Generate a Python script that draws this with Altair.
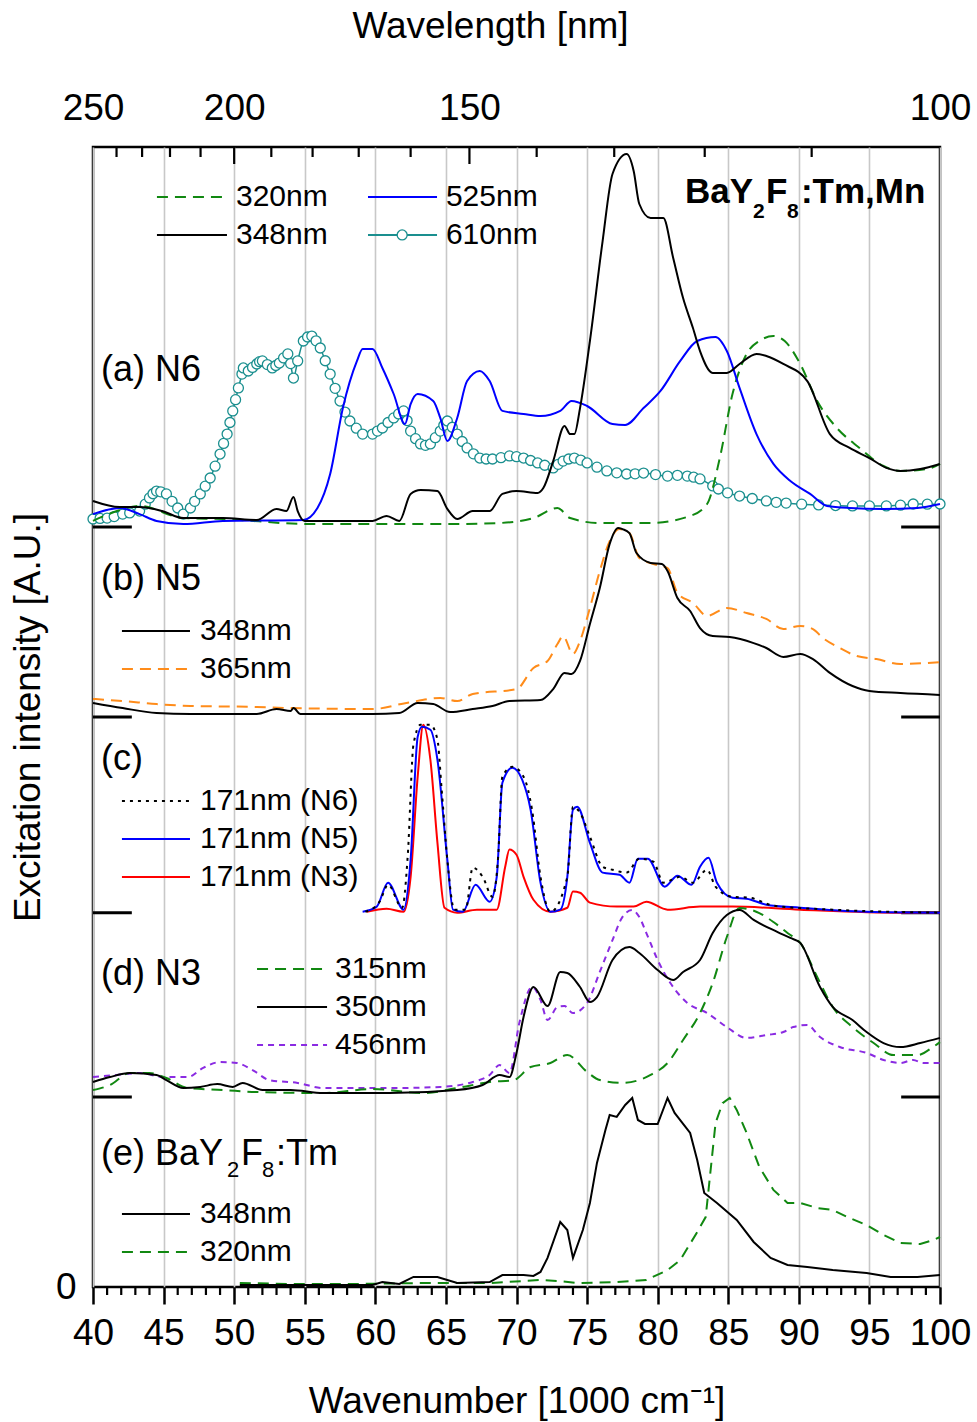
import altair as alt
import pandas as pd

FONT = "Liberation Sans"

# Baseline of each stacked panel, in intensity units (panel (a) spans two units)
OFFSET = {"a": 4.0, "b": 3.0, "c": 1.97, "d": 1.0, "e": 0.0}

# ---- (a) N6 : (wavenumber [1000 cm-1], relative intensity) ----
a_320 = [(40.0, 0.032), (41.7, 0.084), (43.3, 0.111), (46.4, 0.047), (49.2, 0.042), (55.2, 0.016),
         (61.0, 0.016), (65.8, 0.016), (68.8, 0.021), (71.2, 0.047), (72.9, 0.100), (73.8, 0.047),
         (75.9, 0.021), (79.5, 0.021), (82.3, 0.058), (83.5, 0.121), (84.4, 0.363), (85.3, 0.700),
         (86.3, 0.911), (87.2, 0.979), (88.2, 1.005), (89.0, 0.979), (90.1, 0.858), (91.3, 0.663),
         (92.7, 0.521), (94.3, 0.416), (96.0, 0.321), (97.2, 0.295), (99.1, 0.305), (100.0, 0.332)]
a_348 = [(40.0, 0.137), (41.9, 0.105), (43.3, 0.105), (44.9, 0.084), (46.4, 0.047), (49.2, 0.047),
         (51.6, 0.037), (53.0, 0.095), (53.7, 0.084), (54.2, 0.158), (54.5, 0.084), (55.0, 0.032),
         (59.8, 0.032), (60.8, 0.058), (61.7, 0.032), (62.5, 0.174), (63.2, 0.195), (64.4, 0.189),
         (65.1, 0.095), (65.8, 0.042), (66.9, 0.084), (68.1, 0.084), (69.0, 0.174), (70.0, 0.189),
         (71.5, 0.179), (71.9, 0.205), (72.6, 0.347), (73.4, 0.532), (73.8, 0.489), (74.1, 0.489),
         (74.5, 0.626), (75.2, 0.979), (76.1, 1.505), (76.8, 1.858), (77.8, 1.963), (78.3, 1.874),
         (78.7, 1.700), (79.5, 1.626), (80.4, 1.626), (81.1, 1.416), (81.8, 1.205), (82.5, 1.047),
         (83.0, 0.926), (83.9, 0.811), (84.9, 0.811), (85.8, 0.858), (87.0, 0.911), (87.7, 0.900),
         (88.9, 0.858), (90.6, 0.768), (92.2, 0.489), (93.6, 0.416), (95.0, 0.363), (96.2, 0.311),
         (97.2, 0.295), (98.6, 0.305), (100.0, 0.332)]
a_525 = [(40.0, 0.068), (41.9, 0.100), (43.3, 0.068), (44.5, 0.032), (46.4, 0.016), (49.2, 0.032),
         (54.9, 0.037), (55.9, 0.100), (56.8, 0.279), (57.7, 0.626), (58.7, 0.874), (59.1, 0.937),
         (59.8, 0.937), (60.5, 0.837), (61.3, 0.700), (62.1, 0.542), (62.5, 0.647), (63.0, 0.700),
         (64.1, 0.663), (64.6, 0.574), (65.1, 0.453), (65.8, 0.574), (66.5, 0.768), (67.4, 0.821),
         (68.1, 0.768), (69.0, 0.611), (70.5, 0.595), (71.7, 0.584), (73.1, 0.611), (73.9, 0.663),
         (75.0, 0.637), (76.8, 0.542), (77.7, 0.537), (79.0, 0.626), (80.2, 0.716), (81.6, 0.874),
         (82.8, 0.979), (84.1, 1.000), (84.9, 0.926), (85.8, 0.732), (87.0, 0.489), (88.2, 0.332),
         (89.4, 0.242), (90.8, 0.174), (92.0, 0.111), (93.6, 0.100), (96.0, 0.095), (98.4, 0.100),
         (100.0, 0.121)]
a_610 = [(40.0, 0.042), (40.5, 0.045), (41.0, 0.047), (41.5, 0.055), (42.1, 0.068), (42.6, 0.074),
         (43.3, 0.084), (43.7, 0.120), (44.0, 0.153), (44.25, 0.175), (44.5, 0.189), (44.8, 0.185),
         (45.2, 0.174), (45.6, 0.135), (46.0, 0.100), (46.4, 0.068), (46.9, 0.100), (47.2, 0.135),
         (47.6, 0.174), (47.95, 0.215), (48.3, 0.258), (48.65, 0.320), (49.0, 0.384), (49.25, 0.440),
         (49.5, 0.489), (49.7, 0.550), (49.9, 0.611), (50.1, 0.670), (50.3, 0.732), (50.55, 0.805),
         (50.65, 0.837), (51.0, 0.821), (51.3, 0.840), (51.6, 0.858), (51.8, 0.870), (52.0, 0.874),
         (52.35, 0.855), (52.7, 0.837), (52.95, 0.850), (53.2, 0.863), (53.5, 0.890), (53.8, 0.911),
         (54.0, 0.860), (54.2, 0.784), (54.5, 0.874), (54.9, 0.979), (55.2, 1.000), (55.5, 1.005),
         (55.8, 0.980), (56.1, 0.942), (56.45, 0.875), (56.8, 0.805), (57.15, 0.730), (57.5, 0.663),
         (57.85, 0.605), (58.2, 0.558), (58.65, 0.520), (59.1, 0.489), (59.8, 0.489), (60.15, 0.505),
         (60.5, 0.521), (60.9, 0.550), (61.3, 0.574), (61.65, 0.595), (62.0, 0.611), (62.25, 0.560),
         (62.5, 0.505), (62.85, 0.465), (63.2, 0.437), (63.55, 0.430), (63.9, 0.437), (64.25, 0.470),
         (64.6, 0.505), (64.85, 0.535), (65.1, 0.558), (65.45, 0.525), (65.8, 0.489), (66.15, 0.450),
         (66.5, 0.416), (66.95, 0.385), (67.4, 0.363), (67.85, 0.358), (68.3, 0.358), (68.9, 0.365),
         (69.5, 0.374), (70.0, 0.370), (70.5, 0.363), (71.0, 0.350), (71.5, 0.337), (72.0, 0.325),
         (72.6, 0.311), (72.95, 0.330), (73.3, 0.347), (73.7, 0.358), (74.1, 0.363), (74.55, 0.352),
         (75.0, 0.337), (75.7, 0.315), (76.4, 0.295), (77.1, 0.285), (77.8, 0.279), (78.4, 0.280),
         (79.0, 0.284), (79.85, 0.276), (80.7, 0.268), (81.4, 0.272), (82.1, 0.268), (82.55, 0.262),
         (83.0, 0.253), (83.9, 0.216), (84.3, 0.200), (84.95, 0.180), (85.8, 0.163), (86.7, 0.150),
         (87.7, 0.137), (88.4, 0.130), (89.1, 0.126), (90.2, 0.120), (91.4, 0.116), (92.6, 0.113),
         (93.8, 0.111), (95.0, 0.111), (96.2, 0.111), (97.2, 0.115), (98.1, 0.121), (99.1, 0.120),
         (100.0, 0.121)]

# ---- (b) N5 ----
b_348 = [(40.0, 0.074), (42.1, 0.047), (44.5, 0.021), (46.9, 0.016), (51.6, 0.016), (53.0, 0.042),
         (54.0, 0.032), (54.2, 0.047), (54.7, 0.016), (59.8, 0.016), (61.7, 0.021), (63.0, 0.074),
         (64.1, 0.068), (65.3, 0.026), (66.9, 0.042), (68.3, 0.058), (69.5, 0.084), (71.7, 0.089),
         (72.6, 0.147), (73.4, 0.232), (73.9, 0.226), (74.5, 0.295), (75.2, 0.489), (75.9, 0.679),
         (76.6, 0.911), (77.2, 0.995), (77.5, 0.989), (78.0, 0.968), (78.5, 0.863), (79.5, 0.811),
         (80.3, 0.805), (80.7, 0.768), (81.4, 0.626), (82.3, 0.558), (83.0, 0.468), (83.9, 0.426),
         (85.1, 0.421), (86.8, 0.389), (87.7, 0.363), (88.9, 0.316), (90.1, 0.332), (91.0, 0.305),
         (92.2, 0.232), (93.8, 0.163), (95.0, 0.137), (97.2, 0.126), (100.0, 0.116)]
b_365 = [(40.0, 0.095), (42.1, 0.084), (44.5, 0.068), (46.9, 0.058), (51.6, 0.053), (54.0, 0.047),
         (59.8, 0.042), (62.2, 0.074), (64.6, 0.100), (65.8, 0.084), (66.9, 0.121), (70.0, 0.147),
         (71.2, 0.258), (72.2, 0.295), (72.9, 0.384), (73.3, 0.426), (74.0, 0.332), (74.5, 0.400),
         (75.2, 0.574), (75.9, 0.768), (76.6, 0.926), (77.3, 0.989), (78.0, 0.968), (78.7, 0.837),
         (79.7, 0.805), (80.7, 0.784), (81.4, 0.653), (82.5, 0.600), (83.5, 0.532), (84.9, 0.574),
         (86.3, 0.547), (87.7, 0.516), (88.9, 0.463), (90.1, 0.479), (91.0, 0.463), (91.7, 0.416),
         (92.9, 0.363), (94.1, 0.321), (95.5, 0.305), (97.2, 0.279), (100.0, 0.289)]

# ---- (c) 171 nm emission ----
c_n6 = [(59.3, 0.005), (60.3, 0.058), (60.9, 0.147), (61.9, 0.026), (62.3, 0.305), (62.7, 0.884),
        (63.2, 0.989), (63.9, 0.989), (64.4, 0.911), (64.7, 0.647), (65.1, 0.279), (65.6, 0.016),
        (66.4, 0.016), (66.9, 0.237), (67.6, 0.189), (68.3, 0.084), (68.7, 0.295), (69.0, 0.716),
        (69.7, 0.768), (70.5, 0.716), (71.1, 0.542), (71.7, 0.189), (72.4, 0.005), (73.6, 0.189),
        (74.0, 0.558), (74.5, 0.526), (75.2, 0.400), (76.1, 0.242), (76.8, 0.226), (77.8, 0.211),
        (78.7, 0.284), (79.7, 0.268), (80.4, 0.158), (81.6, 0.189), (82.5, 0.158), (83.5, 0.226),
        (84.1, 0.137), (85.3, 0.084), (86.5, 0.079), (88.2, 0.037), (92.4, 0.016), (100.0, 0.0)]
c_n5 = [(59.1, 0.005), (60.1, 0.032), (60.9, 0.158), (62.0, 0.016), (62.5, 0.279), (63.0, 0.926),
        (63.3, 0.979), (63.9, 0.963), (64.4, 0.805), (65.1, 0.279), (65.5, 0.016), (66.2, 0.005),
        (67.1, 0.147), (68.1, 0.058), (68.6, 0.189), (69.0, 0.684), (69.7, 0.763), (70.4, 0.700),
        (71.0, 0.542), (71.7, 0.158), (72.4, 0.005), (73.1, 0.016), (73.6, 0.189), (74.0, 0.542),
        (74.3, 0.558), (75.2, 0.368), (76.1, 0.211), (77.3, 0.200), (78.0, 0.158), (78.6, 0.284),
        (79.3, 0.284), (80.5, 0.137), (81.4, 0.195), (82.4, 0.147), (83.0, 0.242), (83.6, 0.289),
        (84.2, 0.158), (85.3, 0.079), (86.3, 0.074), (87.7, 0.042), (90.1, 0.026), (94.8, 0.005),
        (100.0, 0.0)]
c_n3 = [(59.4, 0.005), (60.8, 0.021), (62.0, 0.005), (62.5, 0.189), (63.0, 0.716), (63.4, 0.989),
        (63.9, 0.805), (64.4, 0.368), (64.9, 0.026), (65.8, 0.0), (67.2, 0.016), (68.6, 0.016),
        (69.2, 0.242), (69.5, 0.332), (70.0, 0.305), (70.5, 0.189), (71.2, 0.068), (72.4, 0.005),
        (73.6, 0.026), (74.0, 0.111), (74.5, 0.105), (75.2, 0.053), (77.1, 0.032), (78.3, 0.032),
        (79.2, 0.058), (80.7, 0.016), (83.0, 0.032), (85.3, 0.032), (90.1, 0.016), (97.2, 0.0),
        (100.0, 0.0)]

# ---- (d) N3 ----
d_315 = [(40.0, 0.037), (41.2, 0.063), (42.6, 0.126), (44.0, 0.126), (45.2, 0.100), (46.7, 0.047),
         (49.2, 0.037), (51.6, 0.026), (56.3, 0.021), (59.8, 0.042), (63.4, 0.021), (65.8, 0.047),
         (68.1, 0.079), (69.8, 0.089), (71.0, 0.158), (72.4, 0.179), (73.6, 0.221), (75.0, 0.132),
         (75.9, 0.089), (77.5, 0.074), (79.5, 0.116), (80.7, 0.179), (81.8, 0.300), (83.0, 0.442),
         (83.9, 0.600), (84.9, 0.842), (85.8, 0.995), (87.2, 0.968), (88.2, 0.921), (89.2, 0.863),
         (90.1, 0.811), (91.3, 0.632), (92.4, 0.474), (93.8, 0.368), (95.3, 0.284), (96.7, 0.221),
         (98.4, 0.221), (99.5, 0.263), (100.0, 0.289)]
d_350 = [(40.0, 0.079), (41.2, 0.105), (42.6, 0.126), (44.5, 0.116), (45.2, 0.089), (46.4, 0.047),
         (47.6, 0.053), (48.8, 0.068), (49.9, 0.053), (50.6, 0.074), (52.0, 0.037), (54.0, 0.037),
         (56.3, 0.021), (61.0, 0.021), (65.8, 0.037), (67.6, 0.063), (68.8, 0.116), (69.5, 0.105),
         (70.0, 0.232), (70.5, 0.421), (71.2, 0.579), (72.2, 0.479), (73.1, 0.658), (73.6, 0.653),
         (74.5, 0.579), (75.2, 0.500), (75.7, 0.526), (76.8, 0.721), (78.0, 0.789), (78.7, 0.758),
         (80.0, 0.668), (81.1, 0.616), (81.8, 0.658), (83.0, 0.721), (83.9, 0.863), (84.9, 0.958),
         (85.8, 0.984), (86.8, 0.932), (88.5, 0.868), (89.4, 0.837), (90.1, 0.811), (91.5, 0.579),
         (92.4, 0.474), (93.8, 0.405), (94.8, 0.342), (96.0, 0.284), (97.2, 0.263), (98.6, 0.284),
         (100.0, 0.311)]
d_456 = [(40.0, 0.105), (41.7, 0.116), (43.3, 0.126), (45.0, 0.105), (46.7, 0.105), (47.8, 0.153),
         (49.0, 0.184), (50.2, 0.179), (51.3, 0.142), (52.5, 0.089), (54.5, 0.074), (56.3, 0.047),
         (61.0, 0.047), (64.6, 0.053), (66.9, 0.079), (68.1, 0.116), (68.8, 0.168), (69.5, 0.126),
         (70.2, 0.389), (71.1, 0.579), (71.7, 0.511), (72.2, 0.405), (72.9, 0.474), (73.4, 0.479),
         (74.0, 0.442), (75.0, 0.495), (75.9, 0.658), (76.8, 0.826), (77.5, 0.947), (78.2, 0.984),
         (78.7, 0.947), (79.2, 0.863), (80.0, 0.721), (80.9, 0.600), (82.1, 0.495), (83.5, 0.442),
         (84.9, 0.368), (86.3, 0.311), (87.7, 0.326), (88.9, 0.342), (89.6, 0.368), (90.6, 0.379),
         (91.5, 0.316), (92.9, 0.263), (94.8, 0.232), (96.0, 0.195), (97.2, 0.179), (98.1, 0.195),
         (98.8, 0.179), (100.0, 0.179)]

# ---- (e) BaY2F8:Tm ----
e_348 = [(50.4, 0.011), (54.7, 0.011), (59.8, 0.011), (60.5, 0.026), (61.7, 0.016), (62.7, 0.053),
         (64.4, 0.053), (65.8, 0.021), (68.1, 0.026), (69.0, 0.063), (70.5, 0.063), (71.2, 0.058),
         (71.7, 0.079), (72.2, 0.153), (73.1, 0.342), (73.6, 0.300), (74.0, 0.153), (74.7, 0.300),
         (75.2, 0.442), (75.7, 0.653), (76.3, 0.826), (76.6, 0.905), (77.1, 0.895), (77.7, 0.958),
         (78.2, 0.995), (78.6, 0.879), (79.1, 0.858), (80.0, 0.858), (80.7, 0.995), (81.2, 0.916),
         (82.3, 0.811), (82.8, 0.668), (83.3, 0.495), (84.2, 0.442), (85.6, 0.353), (86.8, 0.237),
         (88.0, 0.153), (89.2, 0.116), (90.6, 0.105), (92.4, 0.089), (94.8, 0.074), (96.5, 0.053),
         (98.4, 0.053), (100.0, 0.063)]
e_320 = [(50.4, 0.021), (54.0, 0.016), (58.7, 0.016), (63.4, 0.021), (68.1, 0.021), (71.7, 0.037),
         (72.9, 0.032), (74.3, 0.021), (77.1, 0.026), (79.2, 0.037), (80.7, 0.089), (81.6, 0.142),
         (82.8, 0.289), (83.4, 0.368), (83.7, 0.579), (84.1, 0.863), (84.6, 0.968), (85.1, 0.995),
         (85.6, 0.932), (86.3, 0.811), (87.2, 0.632), (88.2, 0.511), (89.2, 0.442), (90.1, 0.442),
         (91.3, 0.416), (92.4, 0.405), (93.6, 0.363), (94.8, 0.326), (96.0, 0.274), (97.2, 0.232),
         (98.6, 0.226), (99.5, 0.247), (100.0, 0.263)]

# Axis ticks
bottom_major = list(range(40, 101, 5))
bottom_minor = [v for v in range(41, 100) if v % 5]
top_labels_nm = [250, 200, 150, 100]
top_ticks_nm = list(range(240, 100, -10))

# Line styles
GREEN, BLACK, BLUE, TEAL = "#118811", "#000000", "#0000ff", "#1a8f8f"
ORANGE, RED, VIOLET = "#ff8c1a", "#ff0000", "#8a2be2"
DASH, DOT, SHORT = [11, 7], [3, 5], [6, 5]

XS = alt.Scale(domain=[40, 100], nice=False, zero=False)
YS = alt.Scale(domain=[0, 6], nice=False, zero=False)
U = 1 / 190.0  # one screen pixel in intensity units
AX = dict(labelFont=FONT, titleFont=FONT, labelFontSize=37, titleFontSize=37,
          titleFontWeight="normal", labelColor="black", titleColor="black")


def frame(points, panel):
    df = pd.DataFrame(points, columns=["wn", "val"])
    df["y"] = df["val"] + OFFSET[panel]
    return df


def enc(chart, xaxis=None, yaxis=None):
    return chart.encode(
        x=alt.X("wn:Q", scale=XS, axis=xaxis),
        y=alt.Y("y:Q", scale=YS, axis=yaxis),
    )


def curve(points, panel, color, dash=None, width=2.0, interp="monotone"):
    props = dict(color=color, strokeWidth=width, clip=False, interpolate=interp)
    if dash:
        props["strokeDash"] = dash
    return enc(alt.Chart(frame(points, panel)).mark_line(**props))


def sample(x0, x1, y, color, dash=None, width=2.0):
    df = pd.DataFrame({"wn": [x0, x1], "y": [y, y]})
    props = dict(color=color, strokeWidth=width)
    if dash:
        props["strokeDash"] = dash
    return enc(alt.Chart(df).mark_line(**props))


def rings(df):
    return enc(alt.Chart(df).mark_point(
        shape="circle", size=100, filled=True, fill="white", stroke=TEAL,
        strokeWidth=1.3, opacity=1))


layers = []

# bottom axis (major ticks, labels, grid) and left axis with only "0"
base = pd.DataFrame({"wn": [40.0, 100.0], "y": [0.0, 0.0]})
layers.append(enc(
    alt.Chart(base).mark_point(opacity=0),
    xaxis=alt.Axis(values=bottom_major, title="Wavenumber [1000 cm\u207b\u00b9]", grid=True,
                   gridColor="#c8c8c8", gridWidth=1.6, tickSize=17, tickWidth=2.5,
                   tickColor="black", domain=False, labelPadding=11, titlePadding=32,
                   labelFlush=False, labelOverlap=False, **AX),
    yaxis=alt.Axis(values=[0], title="Excitation intensity [A.U.]", grid=False, ticks=False,
                   domain=False, labelPadding=17, titlePadding=8, **AX),
))

# top wavelength axis, labels only (ticks drawn inward below)
top_df = pd.DataFrame({"wn": [1e4 / l for l in top_ticks_nm]})
top_df["y"] = 6.0
top_df["y2"] = [6.0 - (17 if l in top_labels_nm else 10) * U for l in top_ticks_nm]
layers.append(alt.Chart(top_df).mark_rule(color="black", strokeWidth=2.2).encode(
    x=alt.X("wn:Q", scale=XS,
            axis=alt.Axis(orient="top", values=[1e4 / l for l in top_labels_nm],
                          labelExpr="format(10000 / datum.value, '.0f')",
                          title="Wavelength [nm]", titleX=397, titleAlign="center",
                          ticks=False, domain=False, grid=False,
                          labelPadding=20, titlePadding=44, labelFlush=False,
                          labelOverlap=False, **AX)),
    y=alt.Y("y:Q", scale=YS, axis=None),
    y2="y2:Q",
))

# minor bottom ticks, pointing outward
minor_df = pd.DataFrame({"wn": bottom_minor})
minor_df["y"] = 0.0
minor_df["y2"] = -8 * U
layers.append(alt.Chart(minor_df).mark_rule(color="black", strokeWidth=2.2, clip=False).encode(
    x=alt.X("wn:Q", scale=XS, axis=None), y=alt.Y("y:Q", scale=YS, axis=None), y2="y2:Q"))

# panel separator ticks on both sides
sep = []
for off in [OFFSET["d"], OFFSET["c"], OFFSET["b"], OFFSET["a"]]:
    sep.append({"wn": 40.0, "wn2": 42.75, "y": off})
    sep.append({"wn": 97.25, "wn2": 100.0, "y": off})
layers.append(alt.Chart(pd.DataFrame(sep)).mark_rule(color="black", strokeWidth=3).encode(
    x=alt.X("wn:Q", scale=XS, axis=None), x2="wn2:Q", y=alt.Y("y:Q", scale=YS, axis=None)))

# (a) N6
layers.append(curve(a_610, "a", TEAL, width=1.5))
layers.append(rings(frame(a_610, "a")))
layers.append(curve(a_320, "a", GREEN, DASH))
layers.append(curve(a_525, "a", BLUE))
layers.append(curve(a_348, "a", BLACK))
# (b) N5
layers.append(curve(b_365, "b", ORANGE, DASH))
layers.append(curve(b_348, "b", BLACK))
# (c)
layers.append(curve(c_n3, "c", RED))
layers.append(curve(c_n5, "c", BLUE))
layers.append(curve(c_n6, "c", BLACK, DOT))
# (d) N3
layers.append(curve(d_456, "d", VIOLET, SHORT))
layers.append(curve(d_315, "d", GREEN, DASH))
layers.append(curve(d_350, "d", BLACK))
# (e)
layers.append(curve(e_320, "e", GREEN, DASH, interp="linear"))
layers.append(curve(e_348, "e", BLACK, interp="linear"))

# legend samples: (x0, x1, y, color, dash)
legend_lines = [
    (44.53, 49.49, 5.737, GREEN, DASH), (44.53, 49.49, 5.537, BLACK, None),
    (59.48, 64.37, 5.737, BLUE, None), (59.48, 64.37, 5.537, TEAL, None),
    (42.05, 46.87, 3.453, BLACK, None), (42.05, 46.87, 3.253, ORANGE, DASH),
    (42.05, 46.87, 2.558, BLACK, DOT), (42.05, 46.87, 2.358, BLUE, None),
    (42.05, 46.87, 2.158, RED, None),
    (51.62, 56.58, 1.674, GREEN, DASH), (51.62, 56.58, 1.474, BLACK, None),
    (51.62, 56.58, 1.274, VIOLET, SHORT),
    (42.05, 46.87, 0.384, BLACK, None), (42.05, 46.87, 0.184, GREEN, DASH),
]
for x0, x1, y, c, d in legend_lines:
    layers.append(sample(x0, x1, y, c, d))
layers.append(rings(pd.DataFrame({"wn": [61.9], "y": [5.537]})))

legend_text = pd.DataFrame([
    ("320nm", 50.13, 5.737), ("348nm", 50.13, 5.537), ("525nm", 65.0, 5.737), ("610nm", 65.0, 5.537),
    ("348nm", 47.58, 3.453), ("365nm", 47.58, 3.253),
    ("171nm (N6)", 47.58, 2.558), ("171nm (N5)", 47.58, 2.358), ("171nm (N3)", 47.58, 2.158),
    ("315nm", 57.14, 1.674), ("350nm", 57.14, 1.474), ("456nm", 57.14, 1.274),
    ("348nm", 47.58, 0.384), ("320nm", 47.58, 0.184),
], columns=["t", "wn", "y"])
layers.append(enc(alt.Chart(legend_text).mark_text(
    align="left", baseline="middle", font=FONT, fontSize=30, color="black")).encode(text="t:N"))

# panel titles (regular) with subscripts set in smaller type
labels = pd.DataFrame([
    ("(a) N6", 40.57, 4.768, 36), ("(b) N5", 40.57, 3.668, 36), ("(c)", 40.57, 2.721, 36),
    ("(d) N3", 40.57, 1.589, 36), ("(e) BaY", 40.57, 0.642, 36), ("2", 49.49, 0.579, 22),
    ("F", 50.48, 0.642, 36), ("8", 51.97, 0.579, 22), (":Tm", 52.96, 0.642, 36),
], columns=["t", "wn", "y", "fs"])
layers.append(enc(alt.Chart(labels).mark_text(
    align="left", baseline="alphabetic", font=FONT, color="black")).encode(
    text="t:N", size=alt.Size("fs:Q", scale=None, legend=None)))

bold = pd.DataFrame([
    ("BaY", 81.94, 5.705, 35), ("2", 86.75, 5.626, 21), ("F", 87.67, 5.705, 35),
    ("8", 89.16, 5.626, 21), (":Tm,Mn", 90.15, 5.705, 35),
], columns=["t", "wn", "y", "fs"])
layers.append(enc(alt.Chart(bold).mark_text(
    align="left", baseline="alphabetic", font=FONT, fontWeight="bold", color="black")).encode(
    text="t:N", size=alt.Size("fs:Q", scale=None, legend=None)))

chart = alt.layer(*layers).resolve_axis(x="independent", y="independent").properties(
    width=847, height=1140,
    background="white",
    autosize=alt.AutoSizeParams(type="none"),
    padding={"left": 93, "top": 147, "right": 37, "bottom": 135},
).configure_view(stroke="black", strokeWidth=2.5)

chart.save("out.html", embed_options={"renderer": "svg", "actions": False})
